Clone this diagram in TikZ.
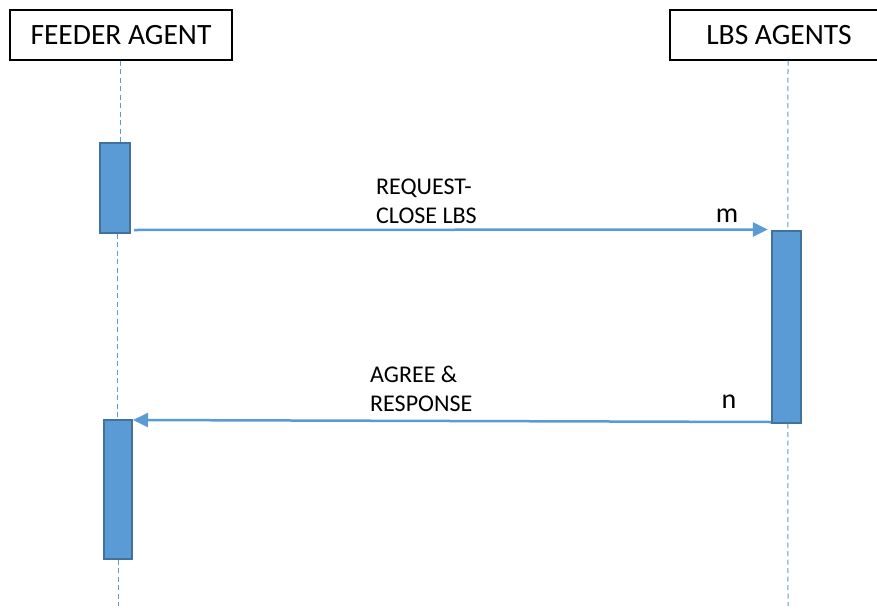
\documentclass[tikz,border=0pt]{standalone}
\usepackage{fontspec}
\setmainfont{Carlito}
\usetikzlibrary{arrows.meta}
\definecolor{actfill}{HTML}{5B9BD5}
\definecolor{actdraw}{HTML}{41719C}
\begin{document}
\begin{tikzpicture}[x=1pt,y=-1pt,
  header/.style={draw=black,line width=1.2pt,fill=white,minimum height=50pt,inner sep=0pt,font=\fontsize{29.5}{32}\selectfont},
  actbox/.style={draw=actdraw,fill=actfill,line width=2pt,inner sep=0pt},
  life/.style={draw=actfill,line width=1pt,dash pattern=on 5pt off 3.5pt},
  msg/.style={draw=actfill,line width=2.5pt,-{Triangle[length=15pt,width=14pt]}},
  msgtext/.style={align=left,anchor=west,inner sep=0pt,font=\fontsize{24}{29}\selectfont},
  lbl/.style={anchor=base,inner sep=0pt,font=\fontsize{28}{30}\selectfont}]
\useasboundingbox (0,0) rectangle (877,610);
% headers
\node[header,minimum width=222pt] (feeder) at (121,35) {FEEDER AGENT};
\node[header,minimum width=218pt] (lbs) at (779,35) {LBS AGENTS};
% activation boxes
\node[actbox,minimum width=30pt,minimum height=90pt] (a1) at (115,187.5) {};
\node[actbox,minimum width=29pt,minimum height=192pt] (a2) at (786.3,326.5) {};
\node[actbox,minimum width=28pt,minimum height=139pt] (a3) at (118,489) {};
% lifelines
\coordinate (fend) at (118,606);
\coordinate (lend) at (788,606);
\draw[life] ([xshift=-1pt]feeder.south) -- ([xshift=5pt]a1.north);
\draw[life] ([xshift=2pt]a1.south) -- ([xshift=-1pt]a3.north);
\draw[life] (a3.south) -- (fend);
\draw[life] ([xshift=9pt]lbs.south) -- ([xshift=1.5pt]a2.north);
\draw[life] ([xshift=1.5pt]a2.south) -- (lend);
% messages
\draw[msg] ([xshift=3pt,yshift=-42.5pt]a1.east) -- ([xshift=-3pt]a2.north west);
\draw[msg] ([yshift=1.5pt]a2.south west) -- ([yshift=-1.5pt]a3.north east);
% labels
\node[msgtext] (t1) at (376,201) {REQUEST-\\CLOSE LBS};
\node[msgtext] (t2) at (370,389) {AGREE \&\\RESPONSE};
\node[lbl] (m) at (727,222.5) {m};
\node[lbl] (n) at (729,408) {n};
\end{tikzpicture}
\end{document}
